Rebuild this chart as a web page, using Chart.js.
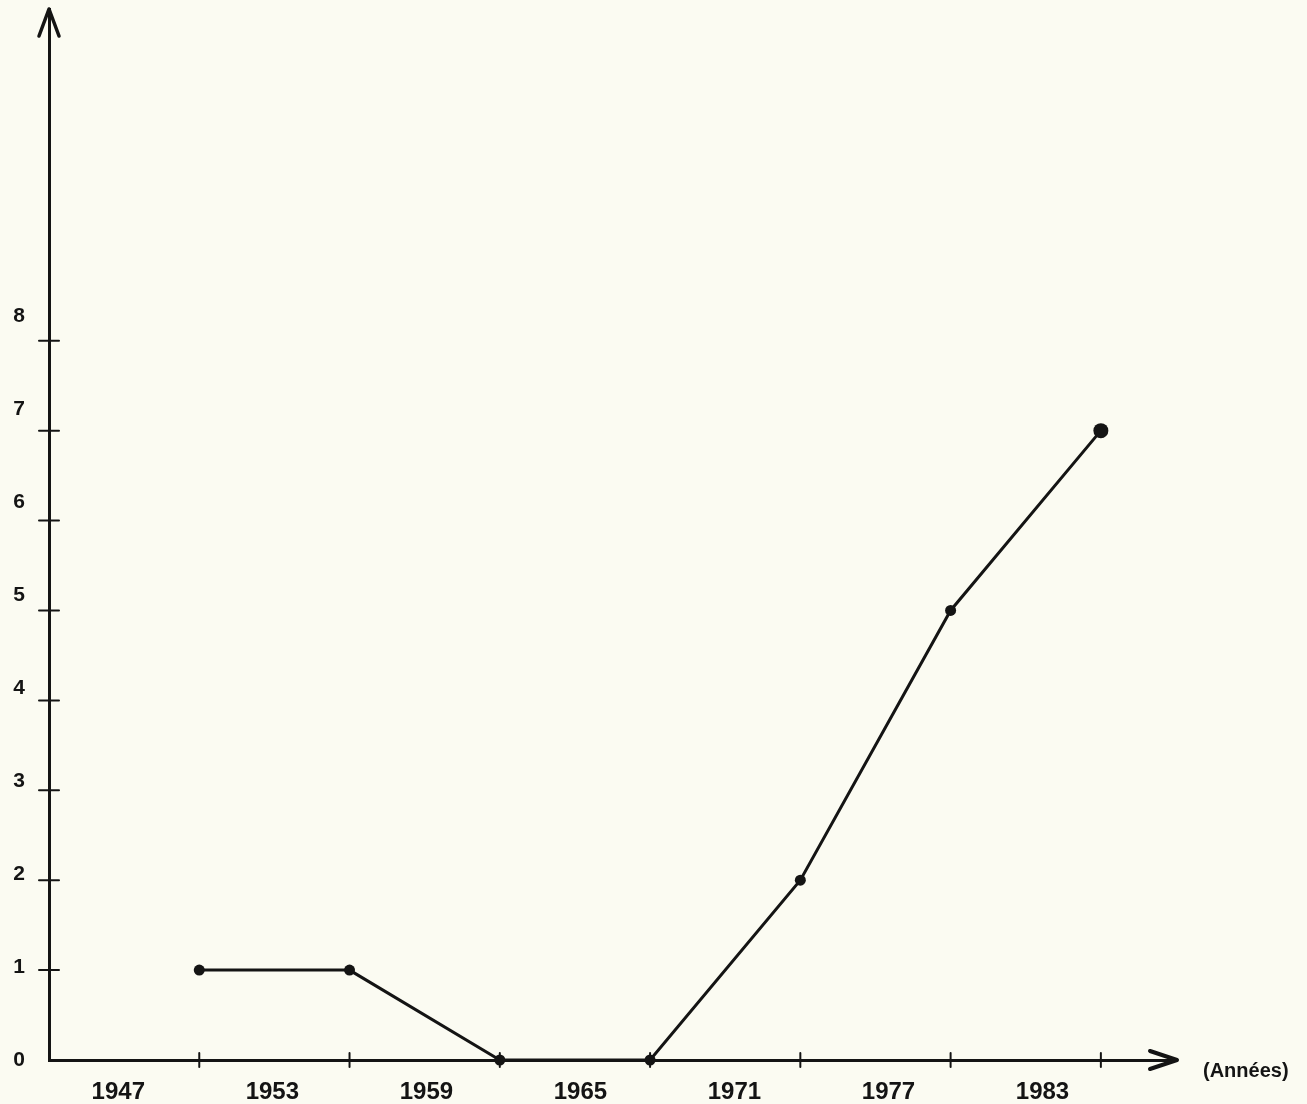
<!DOCTYPE html>
<html lang="fr">
<head>
<meta charset="utf-8">
<title>Graphique</title>
<script src="https://cdn.jsdelivr.net/npm/chart.js@4.4.1/dist/chart.umd.min.js"></script>
<style>
    html, body { margin: 0; padding: 0; background: #fbfbf2; }
    #wrap { position: relative; width: 1307px; height: 1104px; }
</style>
</head>
<body>
<div id="wrap"><canvas id="graphique"></canvas></div>
<script>
// Données
const annees = [1950, 1956, 1962, 1968, 1974, 1980, 1986];
const valeurs = [1, 1, 0, 0, 2, 5, 7];

// Étiquettes de périodes (centrées entre les graduations)
const periodes = [1947, 1953, 1959, 1965, 1971, 1977, 1983];
// Graduations
const graduationsX = [1950, 1956, 1962, 1968, 1974, 1980, 1986];
const graduationsY = [1, 2, 3, 4, 5, 6, 7, 8];
const etiquettesY = [0, 1, 2, 3, 4, 5, 6, 7, 8];

const encre = '#141414';
const police = '"Liberation Sans", Arial, Helvetica, sans-serif';

// Plugin : flèches des axes, graduations croisées, titre de l'axe X
const decorAxes = {
    id: 'decorAxes',
    afterDraw(chart) {
        const { ctx, chartArea, scales } = chart;
        const x0 = chartArea.left;
        const y0 = chartArea.bottom;
        ctx.save();
        ctx.strokeStyle = encre;
        ctx.fillStyle = encre;
        ctx.lineCap = 'round';
        ctx.lineJoin = 'round';

        ctx.lineWidth = 2;
        graduationsX.forEach(v => {
            const px = scales.x.getPixelForValue(v);
            ctx.beginPath();
            ctx.moveTo(px, y0 - 7);
            ctx.lineTo(px, y0 + 7);
            ctx.stroke();
        });
        graduationsY.forEach(v => {
            const py = scales.y.getPixelForValue(v);
            ctx.beginPath();
            ctx.moveTo(x0 - 10, py);
            ctx.lineTo(x0 + 10, py);
            ctx.stroke();
        });

        // flèche verticale
        ctx.lineWidth = 3.5;
        ctx.beginPath();
        ctx.moveTo(x0 - 10, chartArea.top + 27);
        ctx.lineTo(x0, chartArea.top);
        ctx.lineTo(x0 + 10, chartArea.top + 27);
        ctx.stroke();

        // flèche horizontale
        ctx.lineWidth = 4;
        ctx.beginPath();
        ctx.moveTo(chartArea.right - 26, y0 - 9);
        ctx.lineTo(chartArea.right + 1, y0);
        ctx.lineTo(chartArea.right - 26, y0 + 9);
        ctx.stroke();

        ctx.font = 'bold 20px ' + police;
        ctx.textAlign = 'left';
        ctx.textBaseline = 'middle';
        ctx.fillText('(Années)', chartArea.right + 27, y0 + 11);
        ctx.restore();
    }
};

const ctx = document.getElementById('graphique').getContext('2d');

new Chart(ctx, {
    type: 'line',
    data: {
        datasets: [{
            data: annees.map((a, i) => ({ x: a, y: valeurs[i] })),
            xAxisID: 'x',
            yAxisID: 'y',
            borderColor: encre,
            borderWidth: 3,
            backgroundColor: encre,
            pointBackgroundColor: encre,
            pointBorderWidth: 0,
            pointRadius: c => (c.dataIndex === annees.length - 1 ? 7.5 : 5.5),
            tension: 0,
            clip: false
        }]
    },
    options: {
        responsive: true,
        maintainAspectRatio: false,
        animation: false,
        layout: {
            padding: { top: 9, right: 131, left: 0, bottom: 0 }
        },
        plugins: {
            legend: { display: false },
            tooltip: { enabled: false }
        },
        scales: {
            x: {
                type: 'linear',
                display: false,
                min: 1944,
                max: 1989
            },
            y: {
                type: 'linear',
                display: false,
                min: 0,
                max: 11.69
            },
            // axe des étiquettes de périodes
            xl: {
                type: 'linear',
                position: 'bottom',
                min: 1944.3,
                max: 1988.2,
                afterFit: s => {
                    s.height = 44;
                    s.paddingLeft = 0;
                    s.paddingRight = 0;
                },
                afterBuildTicks: s => { s.ticks = periodes.map(v => ({ value: v })); },
                grid: { display: false, drawTicks: false },
                border: { display: true, color: encre, width: 3 },
                ticks: {
                    autoSkip: false,
                    maxRotation: 0,
                    padding: 18,
                    color: encre,
                    font: { family: police, size: 24, weight: 'bold' },
                    callback: v => String(v)
                }
            },
            // axe des étiquettes de l'axe vertical
            yl: {
                type: 'linear',
                position: 'left',
                min: 0,
                max: 11.3,
                afterFit: s => {
                    s.width = 49;
                    s.paddingTop = 0;
                    s.paddingBottom = 0;
                },
                afterBuildTicks: s => { s.ticks = etiquettesY.map(v => ({ value: v })); },
                grid: { display: false, drawTicks: false },
                border: { display: true, color: encre, width: 3 },
                ticks: {
                    autoSkip: false,
                    crossAlign: 'center',
                    padding: 24,
                    color: encre,
                    font: { family: police, size: 21, weight: 'bold' },
                    callback: v => String(v)
                }
            }
        }
    },
    plugins: [decorAxes]
});
</script>
</body>
</html>
